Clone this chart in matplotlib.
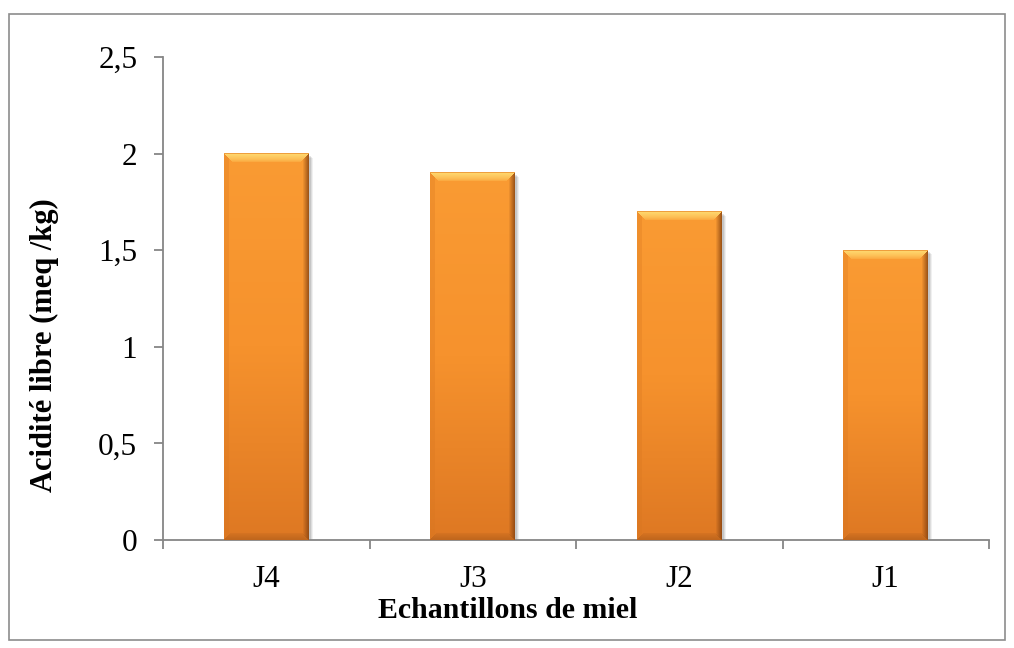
import numpy as np
import matplotlib
matplotlib.use('Agg')
import matplotlib.pyplot as plt
from matplotlib.colors import to_rgb
from matplotlib.patches import Rectangle
from matplotlib.transforms import offset_copy

categories = ['J4', 'J3', 'J2', 'J1']
values = [2.0, 1.9, 1.7, 1.5]
yticks = [0, 0.5, 1, 1.5, 2, 2.5]
ytick_labels = ['0', '0,5', '1', '1,5', '2', '2,5']
xlabel = 'Echantillons de miel'
ylabel = 'Acidité libre (meq /kg)'

plt.rcParams['font.family'] = ['Liberation Serif', 'DejaVu Serif']

W_FIG, H_FIG = 1014, 648
fig = plt.figure(figsize=(W_FIG / 100, H_FIG / 100), dpi=100)
fig.add_artist(Rectangle((9 / W_FIG, 1 - 640 / H_FIG), (1005 - 9) / W_FIG, (640 - 14) / H_FIG,
                         transform=fig.transFigure, fill=False, ec='#8c8c8c', lw=1.2))

ax = fig.add_axes([163 / W_FIG, 1 - 540 / H_FIG, (989 - 163) / W_FIG, (540 - 57) / H_FIG])
x = np.arange(len(categories))
bar_w = 0.41

# soft shadow
for k, a in [(4, 0.06), (3, 0.08), (2, 0.10)]:
    tr = offset_copy(ax.transData, fig=fig, x=k, y=-k, units='dots')
    ax.bar(x, values, width=bar_w, color='black', alpha=a, transform=tr, zorder=1, linewidth=0)

bars = ax.bar(x, values, width=bar_w, color='#F5922F', zorder=2, linewidth=0)
ax.set_xlim(-0.5, 3.5)
ax.set_ylim(0, 2.5)


def col(h):
    return np.array(to_rgb(h))


def bar_image(W, H):
    t = np.linspace(0, 1, H)[:, None]
    c0, c1, c2 = col('#FA9B33'), col('#F6922D'), col('#DE7823')
    tt = t[..., None]
    base = np.where(tt < 0.5,
                    c0 * (1 - tt / 0.5) + c1 * (tt / 0.5),
                    c1 * (1 - (tt - 0.5) / 0.5) + c2 * ((tt - 0.5) / 0.5))
    img = np.repeat(base, W, axis=1).copy()
    ii, jj = np.mgrid[0:H, 0:W]
    dt = ii
    dl = jj
    dr = W - 1 - jj
    db = H - 1 - ii
    dmin = np.minimum(np.minimum(dt, dl), np.minimum(dr, db))
    bw = 9.0
    # top facet
    m = (dt == dmin) & (dt < bw)
    wgt = np.clip(1 - (dt - 1) / (bw - 1), 0, 1) ** 0.6
    hl = col('#FFD86E')
    img[m] = img[m] * (1 - wgt[m][:, None] * 0.95) + hl * (wgt[m][:, None] * 0.95)
    m0 = (dt == 0)
    img[m0] = img[m0] * 0.3 + col('#E8892A') * 0.7
    # left facet
    m = (dl == dmin) & (dl < 5) & ~(dt == dmin)
    img[m] = img[m] * 0.72 + col('#D5741E') * 0.28
    # right facet
    m = (dr == dmin) & (dr < 6) & ~(dt == dmin)
    wgt = np.clip(1 - dr / 6.0, 0, 1)
    img[m] = img[m] * (1 - wgt[m][:, None] * 0.75) + col('#824010') * (wgt[m][:, None] * 0.75)
    # bottom facet
    m = (db == dmin) & (db < 7)
    wgt = np.clip(1 - db / 7.0, 0, 1) * 0.5 + 0.15
    img[m] = img[m] * (1 - wgt[m][:, None]) + col('#B05D1A') * wgt[m][:, None]
    return np.clip(img, 0, 1)


fig.canvas.draw()
for b in bars:
    x0, y0, w, h = b.get_x(), b.get_y(), b.get_width(), b.get_height()
    p0 = ax.transData.transform((x0, y0))
    p1 = ax.transData.transform((x0 + w, y0 + h))
    Wp = max(2, int(round(p1[0] - p0[0])))
    Hp = max(2, int(round(p1[1] - p0[1])))
    ax.imshow(bar_image(Wp, Hp), extent=(x0, x0 + w, y0, y0 + h), aspect='auto',
              zorder=3, interpolation='nearest')
ax.set_xlim(-0.5, 3.5)
ax.set_ylim(0, 2.5)
ax.set_aspect('auto')

for s in ['top', 'right']:
    ax.spines[s].set_visible(False)
for s in ['left', 'bottom']:
    ax.spines[s].set_color('#868686')
    ax.spines[s].set_linewidth(1.3)

ax.set_yticks(yticks)
ax.set_yticklabels(ytick_labels, fontsize=22.5)
ax.tick_params(axis='y', direction='out', length=6.5, width=1.3, color='#868686', pad=12)
ax.set_xticks(x)
ax.set_xticklabels(categories, fontsize=22.5)
ax.set_xticks(np.arange(-0.5, len(categories)), minor=True)
ax.tick_params(axis='x', which='major', length=0, pad=18)
ax.tick_params(axis='x', which='minor', direction='out', length=6.5, width=1.3, color='#868686')

fig.text(508 / W_FIG, 1 - 611 / H_FIG, xlabel, fontsize=21.5, fontweight='bold',
         ha='center', va='center')
fig.text(44 / W_FIG, 1 - 345 / H_FIG, ylabel, fontsize=22, fontweight='bold',
         ha='center', va='center', rotation=90)

fig.savefig('out.png', dpi=100)
